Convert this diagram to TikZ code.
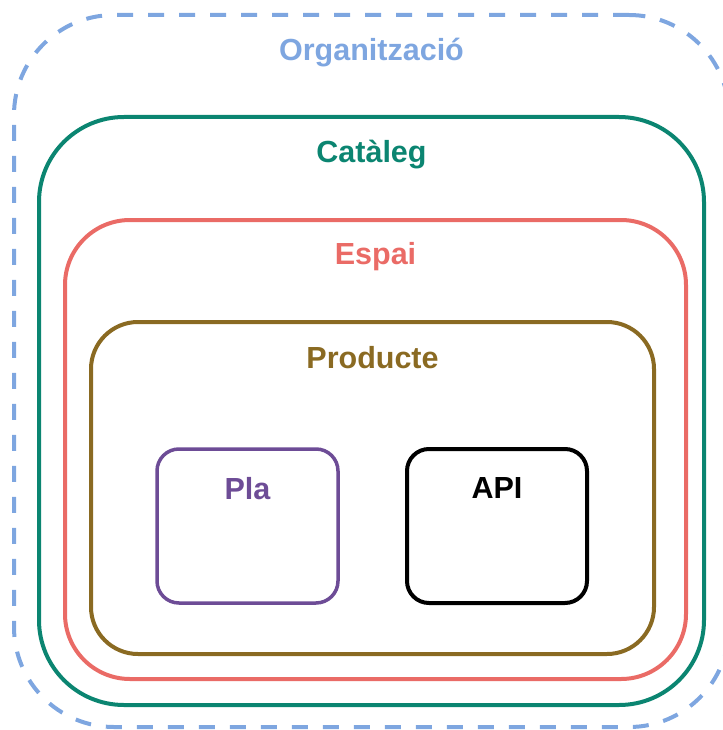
\documentclass[tikz,border=0pt]{standalone}
\usepackage{fontspec}
\setmainfont{Liberation Sans}
\usetikzlibrary{positioning}
\definecolor{orgblue}{HTML}{7EA6E0}
\definecolor{catgreen}{HTML}{0B8571}
\definecolor{spacered}{HTML}{EA6B66}
\definecolor{prodbrown}{HTML}{8A6A22}
\definecolor{planpurple}{HTML}{6D4C96}

\tikzset{
  box/.style={draw, rectangle, line width=4pt, fill=none, inner sep=0pt},
  title/.style={font=\fontsize{30.5}{36}\selectfont\bfseries, inner sep=0pt}
}

\begin{document}
\begin{tikzpicture}[x=1pt,y=-1pt]
\useasboundingbox (0,0) rectangle (722,730);
% nested boxes, outermost first
\node[box,orgblue,dash pattern=on 16pt off 15pt,rounded corners=100pt,minimum width=715pt,minimum height=712pt] (org) at (371.5,371) {};
\node[box,catgreen,rounded corners=85pt,minimum width=665pt,minimum height=588pt] (cat) at (371.5,411) {};
\node[box,spacered,rounded corners=65pt,minimum width=621pt,minimum height=459pt] (space) at (375.5,449.5) {};
\node[box,prodbrown,rounded corners=47pt,minimum width=563pt,minimum height=332pt] (prod) at (372.5,488) {};
\node[box,planpurple,line width=3.5pt,rounded corners=22pt,minimum width=181pt,minimum height=154pt] (plan) at (247.5,526) {};
\node[box,black,rounded corners=22pt,minimum width=180pt,minimum height=154pt] (api) at (497,526) {};

% titles
\node[title,text=orgblue] (orgtitle) at ([yshift=-40pt]org.north) {Organització};
\node[title,text=catgreen] (cattitle) at ([yshift=-40pt]cat.north) {Catàleg};
\node[title,text=spacered] (spacetitle) at ([yshift=-39pt]space.north) {Espai};
\node[title,text=prodbrown] (prodtitle) at ([yshift=-38pt]prod.north) {Producte};
\node[title,text=planpurple] (plantitle) at ([yshift=-41pt]plan.north) {Pla};
\node[title,text=black] (apititle) at ([yshift=-41pt]api.north) {API};
\end{tikzpicture}
\end{document}
